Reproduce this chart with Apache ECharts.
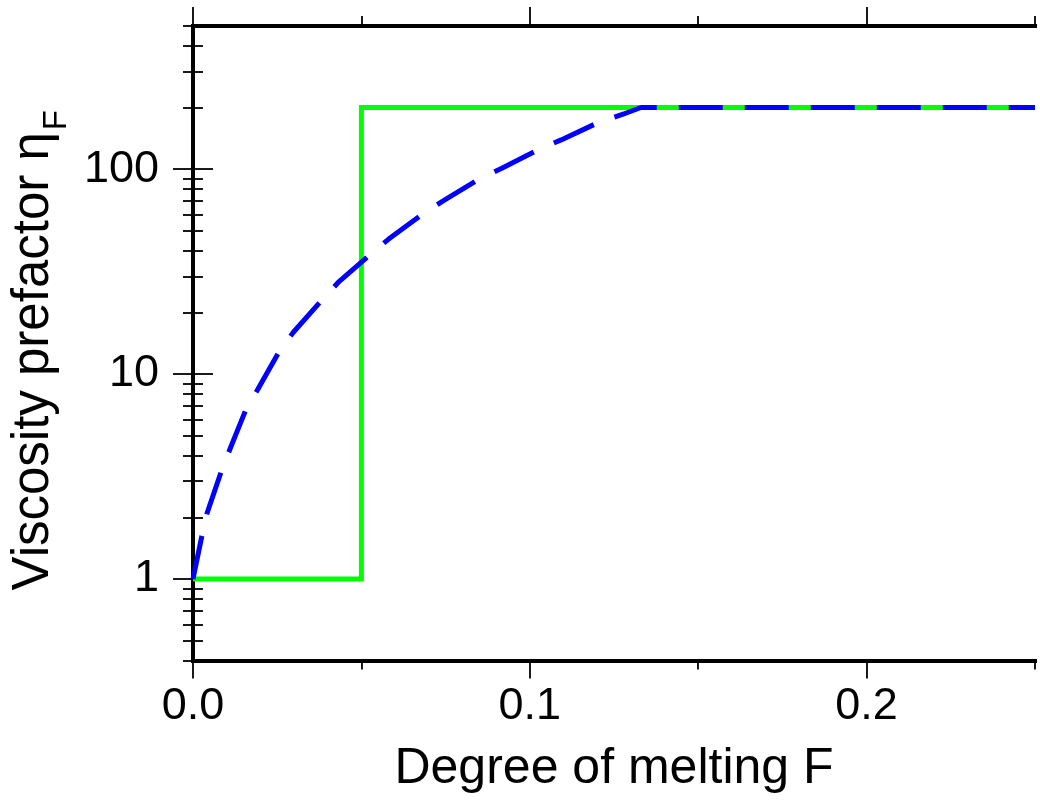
<!DOCTYPE html>
<html>
<head>
<meta charset="utf-8">
<script src="https://cdn.jsdelivr.net/npm/echarts@6/dist/echarts.min.js"></script>
<style>
  html, body { margin: 0; padding: 0; background: #fff; }
  #viscosityChart { width: 1040px; height: 805px; }
</style>
</head>
<body>
<div id="viscosityChart"></div>
<script>
// data
const stepF = [0, 0.05, 0.05, 0.25]
const stepEta = [1, 1, 200, 200]
const smoothF = [0, 0.0027, 0.0042, 0.0084, 0.0109, 0.0157, 0.0193, 0.0255, 0.0298, 0.0382, 0.0431,
  0.0527, 0.0581, 0.0685, 0.0744, 0.0852, 0.0917, 0.103, 0.1093, 0.1209, 0.1279, 0.133, 0.25]
const smoothEta = [1, 1.64, 2.1, 3.35, 4.27, 6.7, 8.45, 12.8, 16, 22.9, 28,
  38.5, 45.6, 61, 70.3, 90, 101, 125.6, 139, 170.7, 186, 200, 200]

// ticks
const xMajor = [0, 0.1, 0.2]
const xMinor = [0.05, 0.15, 0.25]
const yMajor = [1, 10, 100]
const yMinor = [0.4, 0.5, 0.6, 0.7, 0.8, 0.9, 2, 3, 4, 5, 6, 7, 8, 9,
  20, 30, 40, 50, 60, 70, 80, 90, 200, 300, 400, 500]

const font = 'Liberation Sans'
const tickStyle = { color: '#000', width: 1.8 }
const frameStyle = { color: '#000', width: 4, cap: 'square' }

const xAxisBase = { type: 'value', min: 0, max: 0.25, splitLine: { show: false } }
const yAxisBase = { type: 'log', min: 0.4, max: 500, splitLine: { show: false } }

const pair = (arr1, arr2) => arr1.map((v, i) => [v, arr2[i]])

const chart = echarts.init(document.getElementById('viscosityChart'))

const option = {
  animation: false,
  grid: { left: 191, right: 5, top: 26, bottom: 144.5 },
  xAxis: [
    {
      ...xAxisBase,
      position: 'bottom',
      axisLine: { show: true, lineStyle: frameStyle },
      axisTick: { show: true, customValues: xMajor, length: 18, lineStyle: tickStyle },
      axisLabel: {
        customValues: xMajor, margin: 24, fontSize: 45, color: '#000', fontFamily: font,
        formatter: (v) => v.toFixed(1),
      },
      name: 'Degree of melting F',
      nameLocation: 'middle',
      nameGap: 84,
      nameTextStyle: { fontSize: 50, color: '#000', fontFamily: font },
    },
    {
      ...xAxisBase,
      position: 'bottom',
      axisLine: { show: false },
      axisTick: { show: true, customValues: xMinor, length: 9, lineStyle: tickStyle },
      axisLabel: { show: false },
    },
    {
      ...xAxisBase,
      position: 'top',
      axisLine: { show: true, lineStyle: frameStyle },
      axisTick: { show: true, customValues: xMajor, length: 19, lineStyle: tickStyle },
      axisLabel: { show: false },
    },
    {
      ...xAxisBase,
      position: 'top',
      axisLine: { show: false },
      axisTick: { show: true, customValues: xMinor, length: 10, lineStyle: tickStyle },
      axisLabel: { show: false },
    },
  ],
  yAxis: [
    {
      ...yAxisBase,
      position: 'left',
      axisLine: { show: true, lineStyle: frameStyle },
      axisTick: { show: true, customValues: yMajor, length: 20, lineStyle: tickStyle },
      axisLabel: {
        customValues: yMajor, margin: 34, fontSize: 45, color: '#000', fontFamily: font,
        formatter: (v) => String(v),
      },
      name: '{t|Viscosity prefactor η}{s|F}',
      nameLocation: 'middle',
      nameGap: 106,
      nameTextStyle: {
        color: '#000',
        fontFamily: font,
        padding: [0, 14, 0, 0],
        rich: {
          t: { fontSize: 51, lineHeight: 51, verticalAlign: 'top', fontFamily: font, color: '#000' },
          s: { fontSize: 33, lineHeight: 33, verticalAlign: 'top', padding: [32, 0, 0, 2], fontFamily: font, color: '#000' },
        },
      },
    },
    {
      ...yAxisBase,
      position: 'left',
      axisLine: { show: false },
      axisTick: { show: true, customValues: yMinor, length: 10, lineStyle: tickStyle },
      axisLabel: { show: false },
    },
    {
      ...yAxisBase,
      position: 'right',
      axisLine: { show: true, lineStyle: frameStyle },
      axisTick: { show: true, customValues: yMajor, length: 20, lineStyle: tickStyle },
      axisLabel: { show: false },
    },
    {
      ...yAxisBase,
      position: 'right',
      axisLine: { show: false },
      axisTick: { show: true, customValues: yMinor, length: 10, lineStyle: tickStyle },
      axisLabel: { show: false },
    },
  ],
  series: [
    {
      name: 'step',
      type: 'line',
      xAxisIndex: 0,
      yAxisIndex: 0,
      data: pair(stepF, stepEta),
      showSymbol: false,
      lineStyle: { color: '#00ff00', width: 5, join: 'miter' },
      z: 2,
    },
    {
      name: 'smooth',
      type: 'line',
      xAxisIndex: 0,
      yAxisIndex: 0,
      data: pair(smoothF, smoothEta),
      showSymbol: false,
      lineStyle: { color: '#0000ff', width: 5, type: [44, 22], cap: 'butt' },
      z: 3,
    },
  ],
}

chart.setOption(option)
</script>
</body>
</html>
